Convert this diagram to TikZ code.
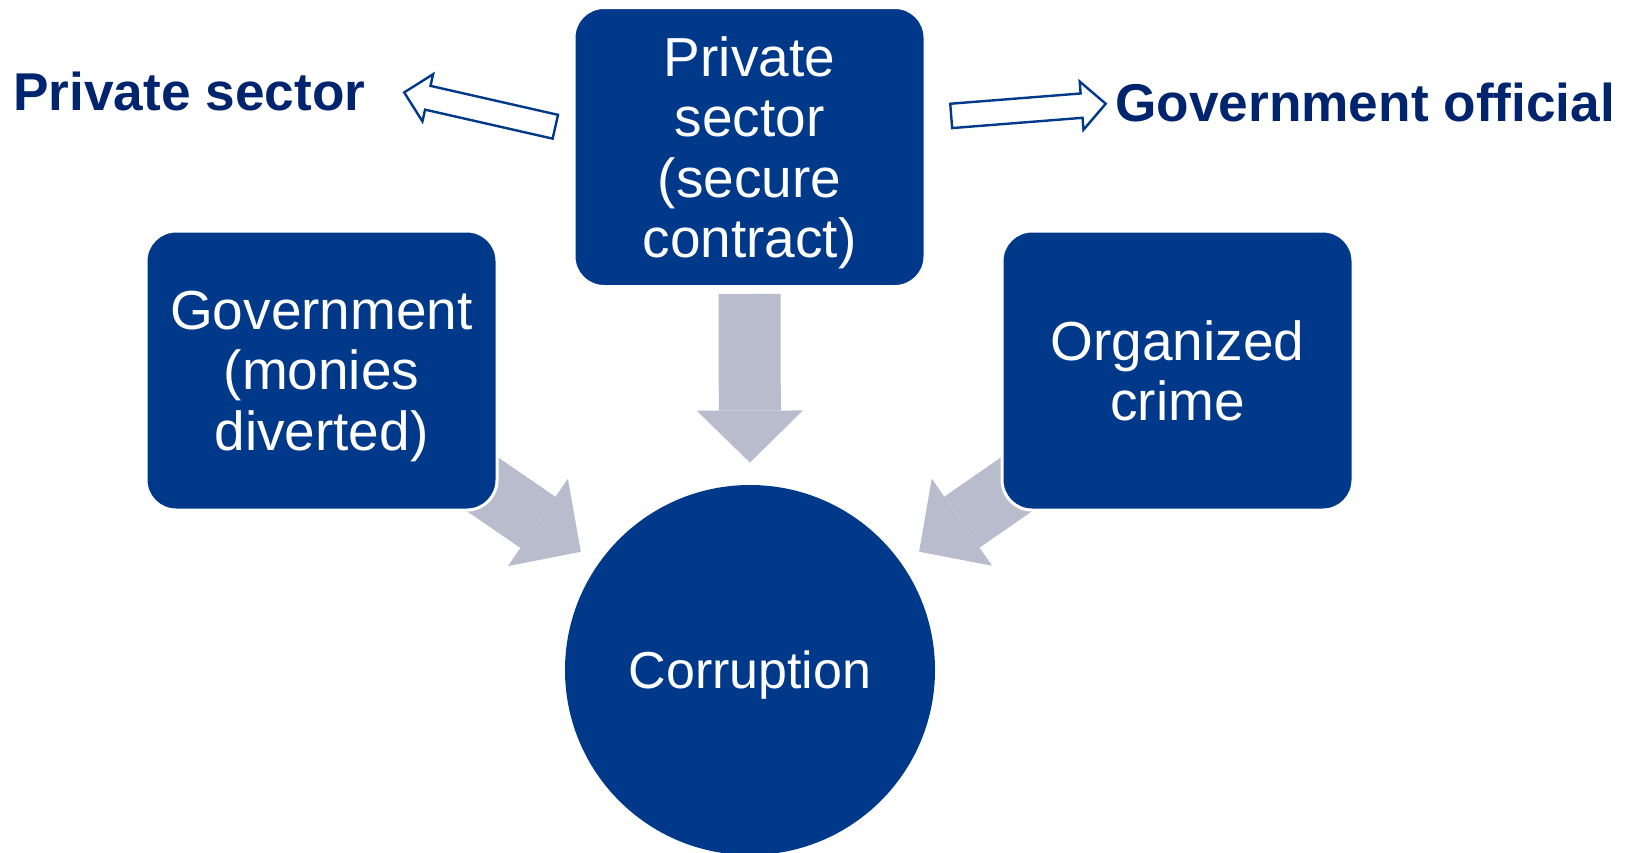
\documentclass[tikz,border=0pt]{standalone}
\usepackage{fontspec}
\setmainfont{Liberation Sans}
\usetikzlibrary{arrows.meta,shapes.arrows,backgrounds}

\definecolor{boxblue}{RGB}{0,57,138}
\definecolor{labelblue}{RGB}{0,36,110}
\definecolor{flowgray}{RGB}{184,188,204}

\tikzset{
  stage/.style={draw=white, line width=1.5pt, fill=boxblue, text=white,
    rounded corners=15pt, minimum width=175.5pt, minimum height=139.5pt,
    align=center, inner sep=0pt, text depth=0pt,
    font=\fontsize{27.5pt}{30.25pt}\selectfont},
  hub/.style={circle, fill=boxblue, text=white, minimum size=185pt,
    inner sep=0pt, text depth=0pt, font=\fontsize{26pt}{30pt}\selectfont},
  party/.style={anchor=base west, inner sep=0pt, text=labelblue,
    font=\fontsize{26.6pt}{30pt}\selectfont\bfseries},
  flow/.style={draw=flowgray, line width=31pt,
    -{Triangle[length=26pt,width=53pt,line width=0pt]}},
  outarrow/.style={single arrow, draw=boxblue, line width=1.2pt, fill=white,
    anchor=tail, minimum height=77.5pt, minimum width=0pt, inner xsep=0pt,
    inner ysep=5.5pt, single arrow head extend=6pt, single arrow tip angle=90},
}

\begin{document}
\begin{tikzpicture}[x=0.5pt,y=-0.5pt]
\useasboundingbox (0,0) rectangle (1633,852);

% Boxes and the hub
\node[stage] (psec) at (749.5,147) {Private\\sector\\(secure\\contract)};
\node[stage] (gov) at (321.5,370.5) {Government\\(monies\\diverted)};
\node[stage] (orgc) at (1177.5,370.5) {Organized\\crime};
\node[hub] (corr) at (750,670) {Corruption};

% Side labels
\node[party] (pslab) at (13,110) {Private sector};
\node[party] (gvlab) at (1115,121) {Government official};

% Hollow arrows out of the top box
\node[outarrow, rotate=167.2] (larr) at (556.5,127) {};
\node[outarrow, rotate=4.5] (rarr) at (950,116) {};

% Gray arrows into the hub, behind the boxes
\begin{pgfonlayer}{background}
\draw[flow, shorten >=11pt] ([yshift=-3pt]psec.south) -- (corr.north);
\draw[flow, shorten >=10.5pt] ([shift={(-11.5pt,16pt)}]gov.south east) -- (corr.145);
\draw[flow, shorten >=10.5pt] ([shift={(11.5pt,16pt)}]orgc.south west) -- (corr.35);
\end{pgfonlayer}
\end{tikzpicture}
\end{document}
